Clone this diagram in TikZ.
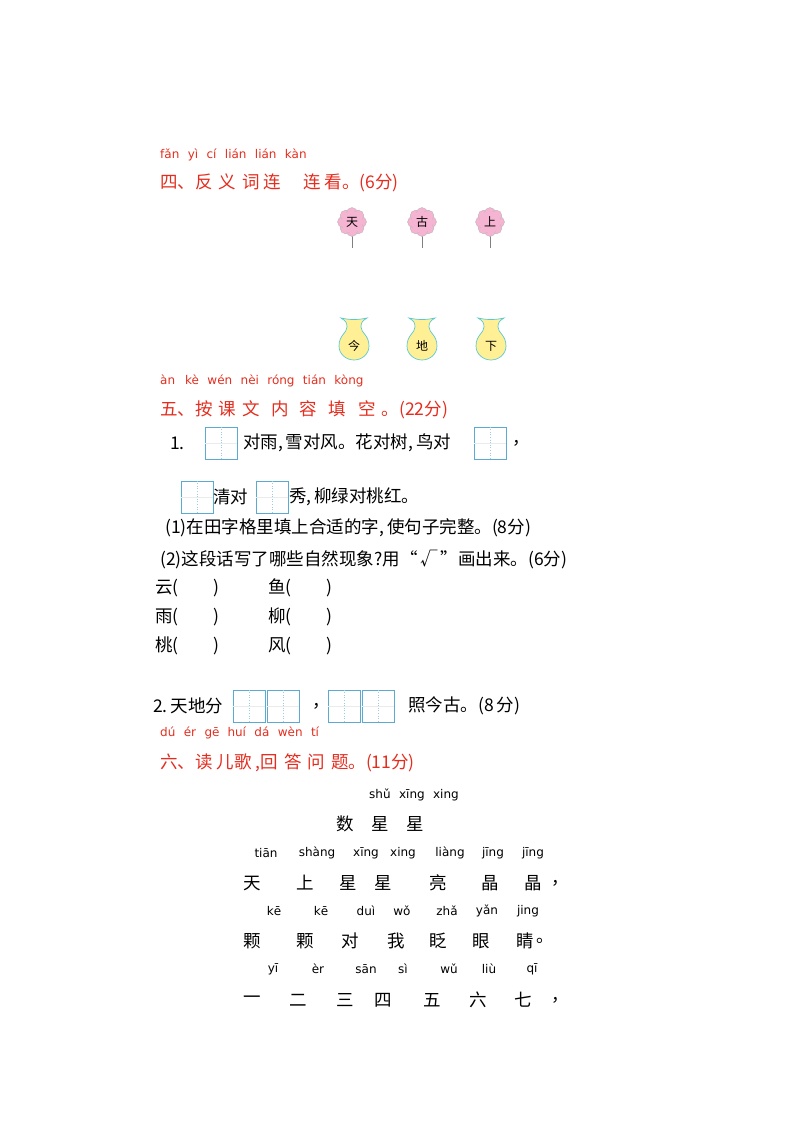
\documentclass[tikz,border=0pt]{standalone}
\usepackage{fontspec}
\setmainfont{Liberation Serif}
\newfontfamily\cjk{Noto Sans CJK SC}
\newfontfamily\py[WordSpace=2.2]{DejaVu Sans}
\definecolor{myred}{RGB}{228,45,30}
\definecolor{boxblue}{RGB}{90,170,210}
\definecolor{pinkf}{RGB}{244,180,210}
\definecolor{vasey}{RGB}{255,240,150}
\definecolor{vaseb}{RGB}{90,200,210}
\begin{document}
\begin{tikzpicture}[x=1pt,y=-1pt,
  t/.style={anchor=west,inner sep=0,font=\cjk\fontsize{17.5}{17.5}\selectfont},
  tc/.style={inner sep=0,font=\cjk\fontsize{17.5}{17.5}\selectfont},
  rt/.style={t,text=myred},
  pyr/.style={anchor=west,inner sep=0,text=myred,font=\py\fontsize{12}{12}\selectfont},
  pyc/.style={inner sep=0,font=\py\fontsize{12}{12}\selectfont},
  tbox/.style={draw=boxblue,line width=0.8pt,minimum width=32pt,minimum height=32pt,inner sep=0},
  dline/.style={boxblue!60,dotted,line width=0.6pt}]
\useasboundingbox (0,0) rectangle (800,1132);
\newcommand\tzg[2]{\node[tbox] (#1) at #2 {};
  \draw[dline] (#1.north) -- (#1.south); \draw[black!8] (#1.west) -- (#1.east);}
\newcommand\flower[3]{%
  \begin{scope}[shift={#2}]
  \draw[gray] (0,10) -- (0,26);
  \foreach \a in {0,45,...,315}{\fill[pinkf,draw=gray!60,line width=0.3pt] (\a:9) circle (5.5);}
  \fill[pinkf] (0,0) circle (11);
  \node[tc,font=\cjk\fontsize{12}{12}\selectfont] (#1) at (0,0) {#3};
  \end{scope}}
\newcommand\vase[3]{%
  \begin{scope}[shift={#2}]
  \draw[vaseb,fill=vasey,line width=0.7pt] (-13,-22) .. controls (-8,-19) and (-7,-17) .. (-7,-13)
   .. controls (-7,-7) and (-15,-5) .. (-15,6) .. controls (-15,14) and (-8,20) .. (0,20)
   .. controls (8,20) and (15,14) .. (15,6) .. controls (15,-5) and (7,-7) .. (7,-13)
   .. controls (7,-17) and (8,-19) .. (13,-22) .. controls (4,-20) and (-4,-20) .. (-13,-22) -- cycle;
  \node[tc,font=\cjk\fontsize{12}{12}\selectfont] (#1) at (0,6) {#3};
  \end{scope}}
% Section 4
\node[pyr] (p4) at (160,155) {fǎn yì cí lián lián kàn};
\node[rt] (h4) at (160,183) {四、反\hspace{6pt}义\hspace{6pt}词\hspace{4pt}连\hspace{22pt}连\hspace{4pt}看。(6分)};
\flower{f1}{(352,222)}{天}\flower{f2}{(422,222)}{古}\flower{f3}{(490,222)}{上}
\vase{v1}{(354,340)}{今}\vase{v2}{(422,340)}{地}\vase{v3}{(491,340)}{下}
% Section 5
\node[pyr] (p5) at (160,381) {àn\hspace{10pt}kè wén nèi róng tián kòng};
\node[rt] (h5) at (160,410) {五、按\hspace{6pt}课\hspace{6pt}文\hspace{12pt}内\hspace{10pt}容\hspace{12pt}填\hspace{12pt}空\hspace{6pt}。(22分)};
\node[t] (n1) at (170,443) {1.};
\tzg{b1}{(221,443)}
\node[t] (s1) at (243,443) {对雨,\,雪对风。花对树,\,鸟对};
\tzg{b2}{(490,443)}
\node[t] (c1) at (512,443) {，};
\tzg{b3}{(197,497)}
\node[t] (s2) at (213,497) {清对};
\tzg{b4}{(272,497)}
\node[t] (s3) at (289,497) {秀,\,柳绿对桃红。};
\node[t] (q1) at (165,528) {(1)在田字格里填上合适的字,\,使句子完整。(8分)};
\node[t] (q2) at (160,560) {(2)这段话写了哪些自然现象?用“\,√\,”画出来。(6分)};
\node[t] (a1) at (155,588) {云(\qquad)};
\node[t] (a2) at (268,588) {鱼(\qquad)};
\node[t] (a3) at (155,617) {雨(\qquad)};
\node[t] (a4) at (268,617) {柳(\qquad)};
\node[t] (a5) at (155,646) {桃(\qquad)};
\node[t] (a6) at (268,646) {风(\qquad)};
\node[t] (n2) at (153,706) {2.\,天地分};
\tzg{c1a}{(249,706)}\tzg{c1b}{(283,706)}
\node[t] (cm) at (312,706) {，};
\tzg{c2a}{(344,706)}\tzg{c2b}{(378,706)}
\node[t] (s4) at (408,706) {照今古。(8\,分)};
% Section 6
\node[pyr] (p6) at (160,733) {dú ér gē\hspace{8pt}huí dá wèn tí};
\node[rt] (h6) at (160,763) {六、读\hspace{4pt}儿歌\hspace{4pt},回\hspace{6pt}答\hspace{6pt}问\hspace{6pt}题。(11分)};
\node[pyc] (tp) at (414,795) {shǔ xīng xing};
\node[tc] (tt) at (380,824) {数\quad 星\quad 星};
\foreach \x/\p [count=\i] in {266/tiān,317/shàng,366/xīng,403/xing,450/liàng,493/jīng,533/jīng}
  \node[pyc] (pa\i) at (\x,853) {\p};
\foreach \x/\c [count=\i] in {252/天,305/上,348/星,383/星,438/亮,490/晶,533/晶,560/，}
  \node[tc] (ca\i) at (\x,883) {\c};
\foreach \x/\p [count=\i] in {274/kē,321/kē,366/duì,402/wǒ,447/zhǎ,487/yǎn,528/jing}
  \node[pyc] (pb\i) at (\x,911) {\p};
\foreach \x/\c [count=\i] in {252/颗,305/颗,350/对,396/我,438/眨,481/眼,525/睛,545/。}
  \node[tc] (cb\i) at (\x,941) {\c};
\foreach \x/\p [count=\i] in {273/yī,318/èr,366/sān,403/sì,449/wǔ,489/liù,532/qī}
  \node[pyc] (pc\i) at (\x,969) {\p};
\foreach \x/\c [count=\i] in {252/一,298/二,345/三,383/四,432/五,478/六,523/七,560/，}
  \node[tc] (cc\i) at (\x,1000) {\c};
\end{tikzpicture}
\end{document}
